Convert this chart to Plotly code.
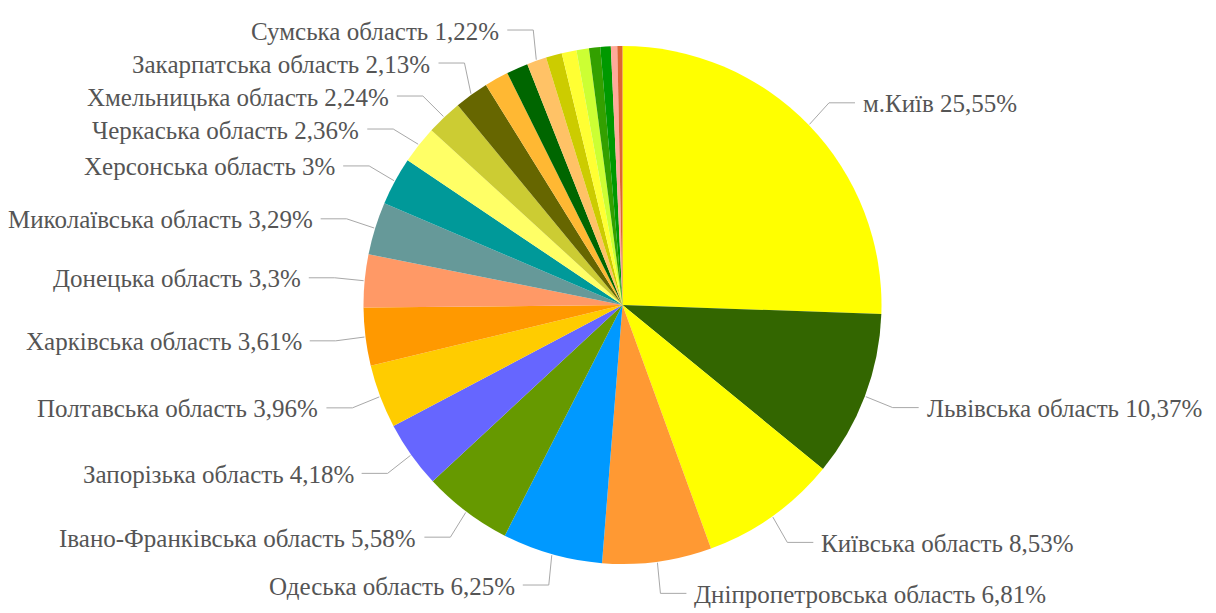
import math
import plotly.graph_objects as go

# ---------------- data ----------------
regions = [
    "м.Київ", "Львівська область", "Київська область", "Дніпропетровська область",
    "Одеська область", "Івано-Франківська область", "Запорізька область",
    "Полтавська область", "Харківська область", "Донецька область",
    "Миколаївська область", "Херсонська область", "Черкаська область",
    "Хмельницька область", "Закарпатська область", "Інші 1", "Інші 2",
    "Сумська область", "Інші 3", "Інші 4", "Інші 5", "Інші 6", "Інші 7",
    "Інші 8", "Інші 9",
]
shares = [25.55, 10.37, 8.53, 6.81, 6.25, 5.58, 4.18, 3.96, 3.61, 3.3, 3.29, 3.0,
          2.36, 2.24, 2.13, 1.5, 1.35, 1.22, 1.0, 0.92, 0.78, 0.7, 0.65, 0.4, 0.32]
labelled = [True] * 15 + [False, False, True] + [False] * 7
colors = [
    "#FFFF00", "#336600", "#FFFF00", "#FF9933", "#0099FF", "#669900", "#6666FF",
    "#FFCC00", "#FF9900", "#FF9966", "#669999", "#009999", "#FFFF66", "#CCCC33",
    "#666600", "#FFB833", "#006600", "#FFC266", "#CCCC00", "#FFFF33", "#CCFF33",
    "#33A000", "#009900", "#FFAA99", "#DD6633",
]

# ---------------- geometry ----------------
W, H = 1216, 613
CX, CY, R = 622.5, 305.0, 259.0
NAT_R = R + 32        # natural label radius
ELBOW_R = R + 30      # connector elbow radius
HSEG = 26             # horizontal connector segment
TXT_GAP = 6
MIN_SPACING = 33
Y_MIN, Y_MAX = 22, 598
FONT = "Liberation Serif"

def px(x):
    return x / W

def py(y):
    return 1 - y / H

def fmt(v):
    return f"{v:g}".replace(".", ",")

total = sum(shares)
items = []
cum = 0.0
for name, v, lab in zip(regions, shares, labelled):
    th = 2 * math.pi * (cum + v / 2) / total
    cum += v
    if not lab:
        continue
    s, c = math.sin(th), math.cos(th)
    items.append(dict(
        text=f"{name} {fmt(v)}%",
        side=1 if s >= 0 else -1,
        tx=CX + (R + 1) * s, ty=CY - (R + 1) * c,
        y=CY - NAT_R * c,
    ))

# distribute labels vertically on each side
for side in (1, -1):
    grp = sorted([it for it in items if it["side"] == side], key=lambda d: d["y"])
    for _ in range(300):
        for a, b in zip(grp[:-1], grp[1:]):
            d = b["y"] - a["y"]
            if d < MIN_SPACING:
                o = (MIN_SPACING - d) / 2
                a["y"] -= o
                b["y"] += o
        for it in grp:
            it["y"] = min(max(it["y"], Y_MIN), Y_MAX)

shapes, annotations = [], []
for it in items:
    side, y = it["side"], it["y"]
    dy = y - CY
    ex = CX + side * math.sqrt(max(ELBOW_R ** 2 - dy ** 2, 0))
    ex = max(ex, it["tx"] + 3) if side == 1 else min(ex, it["tx"] - 3)
    ax = ex + side * HSEG
    shapes.append(dict(
        type="path", xref="paper", yref="paper",
        path=f"M {px(it['tx'])},{py(it['ty'])} L {px(ex)},{py(y)} L {px(ax)},{py(y)}",
        line=dict(color="#A8A8A8", width=1),
    ))
    annotations.append(dict(
        x=px(ax + side * TXT_GAP), y=py(y + 1), xref="paper", yref="paper",
        text=it["text"], showarrow=False,
        xanchor="left" if side == 1 else "right", yanchor="middle",
        font=dict(family=FONT, size=25, color="#555555"),
    ))

fig = go.Figure(go.Pie(
    labels=regions, values=shares, sort=False, direction="clockwise", rotation=0,
    marker=dict(colors=colors, line=dict(width=0)),
    textinfo="none", hoverinfo="label+percent", showlegend=False,
    domain=dict(x=[px(CX - R), px(CX + R)], y=[py(CY + R), py(CY - R)]),
))
fig.update_layout(
    width=W, height=H, margin=dict(l=0, r=0, t=0, b=0),
    paper_bgcolor="white", plot_bgcolor="white",
    font=dict(family=FONT),
    shapes=shapes, annotations=annotations,
)
fig.write_html("out.html", config={"displayModeBar": False},
               post_script="document.body.style.margin='0';")
